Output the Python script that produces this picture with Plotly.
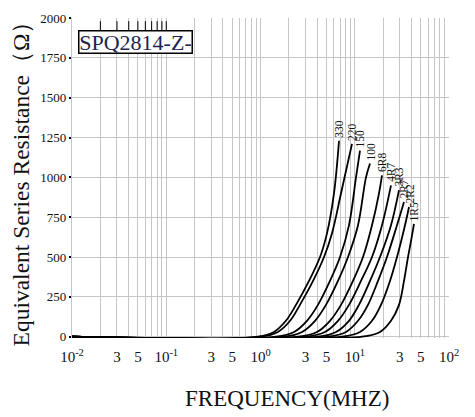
import math
import plotly.graph_objects as go

# ---------------- data ----------------
series_names = ["330", "220", "150", "100", "6R8", "4R7", "3R3", "2R7", "2R2", "1R5"]

freq_330 = [0.01, 0.94, 1.39, 1.86, 2.38, 3.27, 4.28, 5.08, 6.02, 6.81]
esr_330 = [0, 0, 30, 100, 200, 350, 500, 650, 900, 1230]

freq_220 = [0.01, 1.01, 1.53, 2.06, 2.62, 3.61, 4.72, 5.74, 7.15, 9.35]
esr_220 = [0, 0, 30, 100, 200, 350, 500, 650, 900, 1210]

freq_150 = [0.01, 1.46, 2.27, 3.11, 4.07, 5.46, 6.98, 8.69, 10.31, 11.37]
esr_150 = [0, 0, 30, 100, 200, 350, 500, 700, 1000, 1168]

freq_100 = [0.01, 1.78, 2.76, 3.79, 4.95, 6.64, 8.48, 10.83, 13.16, 14.52]
esr_100 = [0, 0, 30, 100, 200, 350, 500, 700, 1000, 1087]

freq_6r8 = [0.01, 2.50, 3.98, 5.46, 7.15, 9.58, 12.23, 15.24, 18.09, 19.46]
esr_6r8 = [0, 0, 30, 100, 200, 350, 500, 700, 900, 1012]

freq_4r7 = [0.01, 3.04, 4.83, 6.64, 8.69, 11.65, 15.24, 19.46, 24.25]
esr_4r7 = [0, 0, 30, 100, 200, 350, 500, 700, 950]

freq_3r3 = [0.01, 4.07, 6.33, 8.69, 11.09, 14.52, 18.53, 24.25, 29.48]
esr_3r3 = [0, 0, 30, 100, 200, 350, 500, 700, 920]

freq_2r7 = [0.01, 5.20, 8.08, 10.83, 13.82, 17.65, 21.99, 28.07, 33.31]
esr_2r7 = [0, 0, 30, 100, 200, 350, 500, 700, 845]

freq_2r2 = [0.01, 7.32, 11.37, 15.24, 18.99, 23.66, 28.07, 34.14, 37.65]
esr_2r2 = [0, 0, 30, 100, 200, 350, 500, 700, 814]

freq_1r5 = [0.01, 11.94, 18.53, 24.25, 29.48, 33.31, 36.74, 39.53, 42.52]
esr_1r5 = [0, 0, 30, 100, 200, 350, 500, 600, 708]

all_freqs = [freq_330, freq_220, freq_150, freq_100, freq_6r8,
             freq_4r7, freq_3r3, freq_2r7, freq_2r2, freq_1r5]
all_esr = [esr_330, esr_220, esr_150, esr_100, esr_6r8,
           esr_4r7, esr_3r3, esr_2r7, esr_2r2, esr_1r5]

x_tick_vals = [0.01, 0.02, 0.03, 0.04, 0.05, 0.06, 0.07, 0.08, 0.09,
               0.1, 0.2, 0.3, 0.4, 0.5, 0.6, 0.7, 0.8, 0.9,
               1, 2, 3, 4, 5, 6, 7, 8, 9,
               10, 20, 30, 40, 50, 60, 70, 80, 90, 100]
x_tick_text = ["10<sup>-2</sup>", "", "3", "", "5", "", "", "", "",
               "10<sup>-1</sup>", "", "3", "", "5", "", "", "", "",
               "10<sup>0</sup>", "", "3", "", "5", "", "", "", "",
               "10<sup>1</sup>", "", "3", "", "5", "", "", "", "",
               "10<sup>2</sup>"]
y_tick_vals = [0, 250, 500, 750, 1000, 1250, 1500, 1750, 2000]
top_minor_ticks = [0.02, 0.03, 0.04, 0.05, 0.06, 0.07, 0.08, 0.09, 0.1]

part_label = "SPQ2814-Z-"
x_title = "FREQUENCY(MHZ)"
y_title = "Equivalent Series Resistance（Ω）"

# ---------------- figure ----------------
SERIF = "Liberation Serif, Times New Roman, serif"
GRID = "#c6c6c6"

fig = go.Figure()
for name, fx, vy in zip(series_names, all_freqs, all_esr):
    fig.add_trace(go.Scatter(
        x=fx, y=vy, mode="lines", name=name,
        line=dict(color="black", width=1.8, shape="spline", smoothing=1.0),
        showlegend=False, hoverinfo="skip"))
    fig.add_annotation(x=math.log10(fx[-1]), y=vy[-1], text=name, textangle=-90,
                       showarrow=False, xanchor="center", yanchor="bottom",
                       yshift=1, font=dict(family=SERIF, size=11.5, color="#111"))

for t in top_minor_ticks:
    fig.add_shape(type="line", x0=t, x1=t, xref="x", yref="paper",
                  y0=0.99, y1=0.955, line=dict(color="black", width=1))

fig.add_annotation(text=part_label, xref="paper", yref="paper",
                   x=0.016, y=0.963, xanchor="left", yanchor="top",
                   width=112, height=21, align="center", valign="middle",
                   showarrow=False, bgcolor="white", bordercolor="black",
                   borderwidth=1.5, borderpad=0,
                   font=dict(family=SERIF, size=22, color="#1b2550"))

fig.add_annotation(text=x_title, xref="paper", yref="paper",
                   x=0.57, y=-0.189, xanchor="center", yanchor="middle",
                   showarrow=False,
                   font=dict(family=SERIF, size=23, color="#111"))

# The page adds an 8 px body margin, so the figure is sized to fit the window.
fig.update_layout(
    width=467, height=409,
    margin=dict(l=64, r=26, t=10, b=79),
    paper_bgcolor="white", plot_bgcolor="white",
    font=dict(family=SERIF, color="#111"),
    xaxis=dict(type="log", range=[-2, 2], tickmode="array",
               tickvals=x_tick_vals, ticktext=x_tick_text,
               showgrid=True, gridcolor=GRID, gridwidth=1.2,
               ticks="", showline=False, zeroline=False, automargin=False,
               ticklabelstandoff=8,
               tickfont=dict(family=SERIF, size=15, color="#111")),
    yaxis=dict(range=[-8, 2000], tickmode="array", tickvals=y_tick_vals,
               showgrid=True, gridcolor=GRID, gridwidth=1.2,
               zeroline=True, zerolinecolor=GRID, zerolinewidth=1.2,
               showline=True, linecolor=GRID, linewidth=1.2, automargin=False,
               ticks="outside", ticklen=2, tickcolor="black", tickwidth=2,
               tickfont=dict(family=SERIF, size=13, color="#111"),
               title=dict(text=y_title, standoff=6,
                          font=dict(family=SERIF, size=23.5, color="#111"))),
)

fig.write_html("out.html")
